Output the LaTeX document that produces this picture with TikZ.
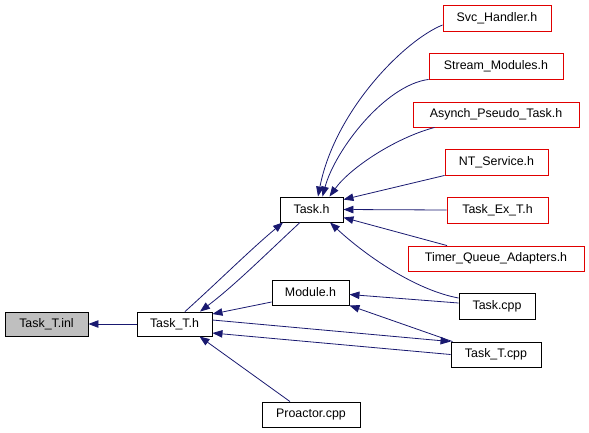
\documentclass[tikz,border=0pt]{standalone}
\usepackage{fontspec}
\setmainfont{Liberation Sans}
\usetikzlibrary{arrows.meta}
\definecolor{edgeblue}{HTML}{191970}
\definecolor{boxred}{HTML}{E00000}
\begin{document}
\begin{tikzpicture}[x=1pt,y=-1pt,
  box/.style={draw=black, line width=0.9pt, inner sep=0pt, font=\fontsize{12.4}{14}\selectfont},
  redbox/.style={box, draw=boxred},
  dep/.style={draw=edgeblue, line width=0.8pt, -{Triangle[length=10pt,width=7.5pt]}}]
\useasboundingbox (0,0) rectangle (589,432);
% nodes
\node[box, fill=black!25, minimum width=83pt, minimum height=24pt] (inl) at (46.5,324) {Task\_T.inl};
\node[box, minimum width=75pt, minimum height=24pt] (tth) at (174.5,324) {Task\_T.h};
\node[box, minimum width=63pt, minimum height=25pt] (taskh) at (311.5,209.5) {Task.h};
\node[box, minimum width=77pt, minimum height=25pt] (modh) at (310.5,292.5) {Module.h};
\node[box, minimum width=98pt, minimum height=25pt] (proa) at (311,414.5) {Proactor.cpp};
\node[redbox, minimum width=108pt, minimum height=26pt] (svc) at (497,18) {Svc\_Handler.h};
\node[redbox, minimum width=134pt, minimum height=26pt] (stream) at (496,66) {Stream\_Modules.h};
\node[redbox, minimum width=166pt, minimum height=25pt] (asynch) at (496,114.5) {Asynch\_Pseudo\_Task.h};
\node[redbox, minimum width=103pt, minimum height=26pt] (nt) at (496.5,162) {NT\_Service.h};
\node[redbox, minimum width=101pt, minimum height=26pt] (taskex) at (497.5,210) {Task\_Ex\_T.h};
\node[redbox, minimum width=176pt, minimum height=25pt] (timer) at (496,258.5) {Timer\_Queue\_Adapters.h};
\node[box, minimum width=76pt, minimum height=26pt] (taskcpp) at (497,306) {Task.cpp};
\node[box, minimum width=90pt, minimum height=25pt] (ttcpp) at (496,354.5) {Task\_T.cpp};
% edges
\draw[dep] (tth.west) -- (inl.east);
\draw[dep] ([xshift=10.5pt]tth.north) .. controls (220,280) and (250,250) .. ([xshift=-28.5pt]taskh.south);
\draw[dep] ([xshift=-11.5pt]taskh.south) .. controls (265,255) and (235,285) .. ([xshift=25.5pt]tth.north);
\draw[dep] ([yshift=-9.5pt]modh.west) -- ([yshift=10pt]tth.east);
\draw[dep] ([yshift=4pt]tth.east) -- (ttcpp.north west);
\draw[dep] (ttcpp.west) -- ([yshift=-9pt]tth.east);
\draw[dep] ([xshift=-21pt]proa.north) -- ([xshift=25pt]tth.south);
\draw[dep] ([xshift=2pt]ttcpp.north west) -- (modh.south east);
\draw[dep] ([yshift=3pt]taskcpp.west) -- ([yshift=-2pt]modh.east);
\draw[dep] ([yshift=8pt]taskcpp.west) .. controls (415,290) and (365,255) .. ([xshift=18.5pt]taskh.south);
\draw[dep] ([xshift=-49pt]timer.north) -- ([yshift=-8pt]taskh.east);
\draw[dep] (taskex.west) -- (taskh.east);
\draw[dep] (nt.south west) -- ([yshift=-3pt]taskh.north east);
\draw[dep] ([xshift=22pt]asynch.south west) .. controls (395,138) and (350,168) .. ([xshift=18pt]taskh.north);
\draw[dep] (stream.south west) .. controls (385,85) and (335,150) .. ([xshift=11pt]taskh.north);
\draw[dep] ([yshift=-7pt]svc.west) .. controls (405,40) and (335,110) .. ([xshift=6.5pt]taskh.north);
\end{tikzpicture}
\end{document}
